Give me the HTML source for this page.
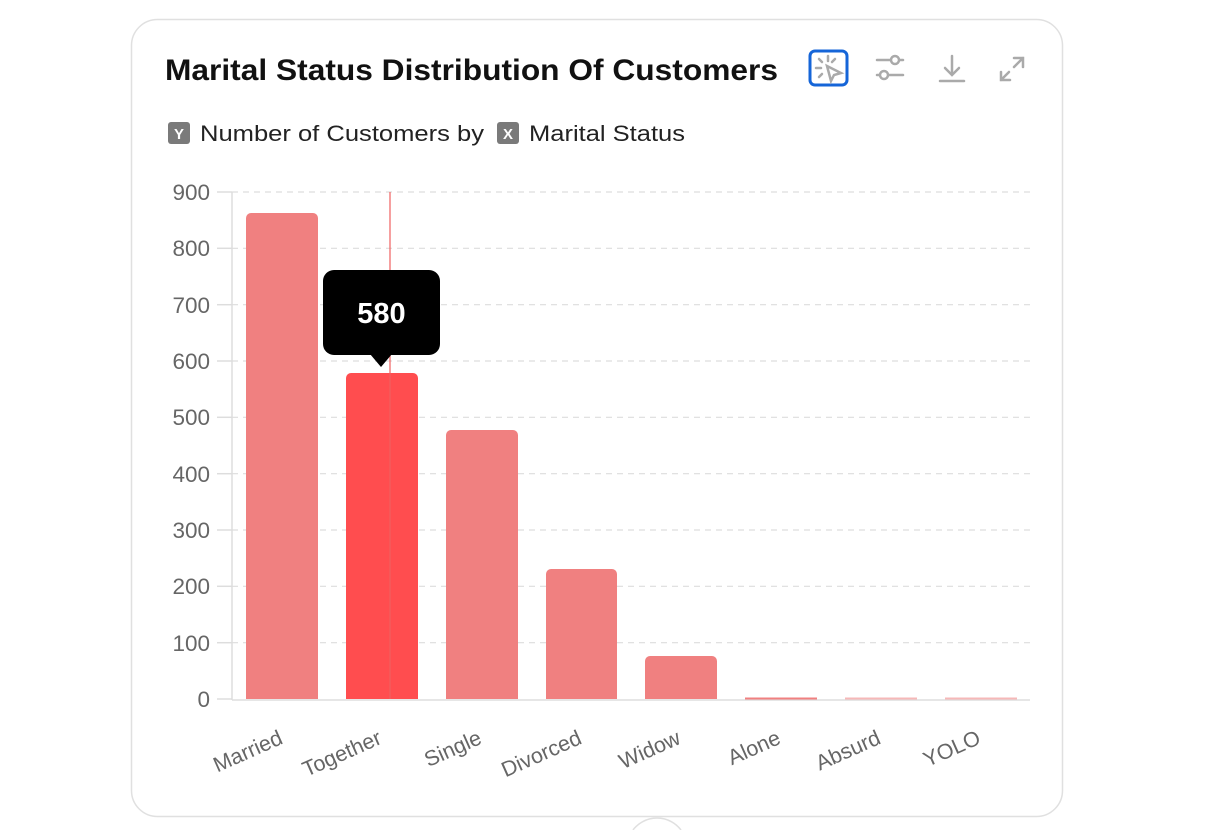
<!DOCTYPE html>
<html><head><meta charset="utf-8"><style>
html,body{margin:0;padding:0;background:#fff;width:1212px;height:830px;overflow:hidden;font-family:"Liberation Sans",sans-serif}
svg{display:block;overflow:hidden}
</style></head><body>
<svg width="1212" height="830" viewBox="0 0 1212 830" xmlns="http://www.w3.org/2000/svg" font-family="Liberation Sans, sans-serif">
<rect x="131.5" y="19.5" width="931" height="797" rx="26" fill="#fff" stroke="#e0e0e0" stroke-width="1.5"/>
<path d="M633 830 A30 30 0 0 1 681 830" fill="#fff" stroke="#e0e0e0" stroke-width="1.5"/>
<text x="165" y="80" font-size="30" font-weight="bold" fill="#111" textLength="613" lengthAdjust="spacingAndGlyphs">Marital Status Distribution Of Customers</text>
<rect x="810" y="51" width="37" height="34" rx="5" fill="none" stroke="#1565d8" stroke-width="3"/>
<g stroke="#aaa" stroke-width="2.5" fill="none" stroke-linecap="round">
<line x1="828" y1="56" x2="828" y2="61"/><line x1="816" y1="68" x2="821" y2="68"/>
<line x1="819" y1="59" x2="822" y2="62"/><line x1="835" y1="59" x2="832" y2="62"/><line x1="819" y1="77" x2="822" y2="74"/>
<path d="M827 66 L841 73 L834 75 L831 81 Z"/>
<line x1="877" y1="60" x2="903" y2="60"/><circle cx="895" cy="60" r="4" fill="#fff"/>
<line x1="877" y1="75" x2="903" y2="75"/><circle cx="884" cy="75" r="4" fill="#fff"/>
<line x1="952" y1="56" x2="952" y2="74"/><path d="M945 68 L952 75 L959 68"/><line x1="940" y1="81" x2="964" y2="81"/>
<path d="M1014 58 L1023 58 L1023 67 M1023 58 L1014 67"/><path d="M1001 72 L1001 80 L1010 80 M1001 80 L1009 72"/>
</g>
<rect x="168" y="122" width="22" height="22" rx="3" fill="#7a7a7a"/>
<text x="179" y="139" font-size="15" font-weight="bold" fill="#fff" text-anchor="middle">Y</text>
<text x="200" y="141" font-size="22" fill="#222" textLength="284" lengthAdjust="spacingAndGlyphs">Number of Customers by</text>
<rect x="497" y="122" width="22" height="22" rx="3" fill="#7a7a7a"/>
<text x="508" y="139" font-size="15" font-weight="bold" fill="#fff" text-anchor="middle">X</text>
<text x="529" y="141" font-size="22" fill="#222" textLength="156" lengthAdjust="spacingAndGlyphs">Marital Status</text>
<g stroke="#ddd" stroke-width="1.2" stroke-dasharray="6,5">
<line x1="232" y1="192" x2="1030" y2="192"/><line x1="232" y1="248.3" x2="1030" y2="248.3"/>
<line x1="232" y1="304.7" x2="1030" y2="304.7"/><line x1="232" y1="361" x2="1030" y2="361"/>
<line x1="232" y1="417.3" x2="1030" y2="417.3"/><line x1="232" y1="473.7" x2="1030" y2="473.7"/>
<line x1="232" y1="530" x2="1030" y2="530"/><line x1="232" y1="586.3" x2="1030" y2="586.3"/>
<line x1="232" y1="642.7" x2="1030" y2="642.7"/>
</g>
<g stroke="#ddd" stroke-width="1.5">
<line x1="217" y1="192" x2="232" y2="192"/><line x1="217" y1="248.3" x2="232" y2="248.3"/>
<line x1="217" y1="304.7" x2="232" y2="304.7"/><line x1="217" y1="361" x2="232" y2="361"/>
<line x1="217" y1="417.3" x2="232" y2="417.3"/><line x1="217" y1="473.7" x2="232" y2="473.7"/>
<line x1="217" y1="530" x2="232" y2="530"/><line x1="217" y1="586.3" x2="232" y2="586.3"/>
<line x1="217" y1="642.7" x2="232" y2="642.7"/><line x1="217" y1="699" x2="232" y2="699"/>
<line x1="232" y1="192" x2="232" y2="700"/><line x1="232" y1="700" x2="1030" y2="700"/>
</g>
<g font-size="22.5" fill="#666" text-anchor="end">
<text x="210" y="200">900</text><text x="210" y="256">800</text><text x="210" y="313">700</text>
<text x="210" y="369">600</text><text x="210" y="425">500</text><text x="210" y="482">400</text>
<text x="210" y="538">300</text><text x="210" y="594">200</text><text x="210" y="651">100</text>
<text x="210" y="707">0</text>
</g>
<path d="M246 699 V218 a5 5 0 0 1 5 -5 H313 a5 5 0 0 1 5 5 V699Z" fill="#f08080"/>
<path d="M346 699 V378 a5 5 0 0 1 5 -5 H413 a5 5 0 0 1 5 5 V699Z" fill="#ff4d4f"/>
<path d="M446 699 V435 a5 5 0 0 1 5 -5 H513 a5 5 0 0 1 5 5 V699Z" fill="#f08080"/>
<path d="M546 699 V574 a5 5 0 0 1 5 -5 H612 a5 5 0 0 1 5 5 V699Z" fill="#f08080"/>
<path d="M645 699 V661 a5 5 0 0 1 5 -5 H712 a5 5 0 0 1 5 5 V699Z" fill="#f08080"/>
<rect x="745" y="697.5" width="72" height="2" fill="#f08080"/>
<rect x="845" y="697.5" width="72" height="2" fill="#f6b8b8"/>
<rect x="945" y="697.5" width="72" height="2" fill="#f6b8b8"/>
<line x1="390" y1="192" x2="390" y2="699" stroke="#f06060" stroke-width="1.2"/>
<rect x="323" y="270" width="117" height="85" rx="11" fill="#000"/>
<path d="M370 354 L381 367 L392 354Z" fill="#000"/>
<text x="381.5" y="323" font-size="29" font-weight="bold" fill="#fff" text-anchor="middle">580</text>
<g font-size="21.5" fill="#666" text-anchor="end">
<text transform="translate(284,743) rotate(-24)">Married</text>
<text transform="translate(383,743) rotate(-24)">Together</text>
<text transform="translate(483,743) rotate(-24)">Single</text>
<text transform="translate(583,743) rotate(-24)">Divorced</text>
<text transform="translate(682,743) rotate(-24)">Widow</text>
<text transform="translate(782,743) rotate(-24)">Alone</text>
<text transform="translate(882,743) rotate(-24)">Absurd</text>
<text transform="translate(982,743) rotate(-24)">YOLO</text>
</g>
</svg>
</body></html>
